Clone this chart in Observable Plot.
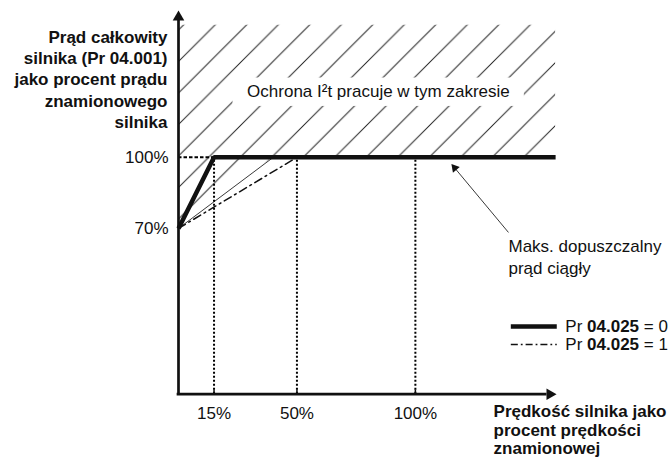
<!DOCTYPE html>
<html><head><meta charset="utf-8">
<script src="https://cdn.jsdelivr.net/npm/d3@7"></script>
<script src="https://cdn.jsdelivr.net/npm/@observablehq/plot@0.6"></script>
<style>body{margin:0;background:#fff} svg{display:block}</style>
</head><body><div id="chart"></div>
<script>
// ---- data ----
const speedTicks = [15, 50, 100];           // x tick values (% speed)
const currentTicks = [70, 100];             // y tick values (% current)
const guideSpeeds = [15, 50, 100];          // dotted vertical guides
const limitPr0 = [{x: 0, y: 70}, {x: 15, y: 100}, {x: 159.2, y: 100}];   // Pr 04.025 = 0
const limitPr1 = [{x: 0, y: 70}, {x: 50, y: 100}];                      // Pr 04.025 = 1
const hatchEdge = [{x: 0, y: 70}, {x: 40, y: 100}];
const hatchZone = [
  {x: 0, y1: 70, y2: 155.8},
  {x: 40, y1: 100, y2: 155.8},
  {x: 159.2, y1: 100, y2: 155.8}
];
const yTitle = ["Prąd całkowity", "silnika (Pr 04.001)", "jako procent prądu", "znamionowego", "silnika"];
const xTitle = ["Prędkość silnika jako", "procent prędkości", "znamionowej"];
const zoneLabel = [{x: 84.4, y: 127.6, text: "Ochrona I²t pracuje w tym zakresie"}];
const zoneBox = [{x1: 23, x2: 146, y1: 121.5, y2: 133.5}];
const noteText = [{x: 139.3, y: 66.7, text: "Maks. dopuszczalny\nprąd ciągły"}];
const noteArrow = [{x1: 139.3, y1: 68.3, x2: 115.7, y2: 96.6}];
const legendRows = [
  {y: 28.6, pre: "Pr", code: "04.025", post: "= 0"},
  {y: 21.0, pre: "Pr", code: "04.025", post: "= 1"}
];
const legendX = {x1: 140.5, x2: 159.9, text: 163.3};

// ---- helpers ----
const FONT = "'Liberation Sans', Arial, Helvetica, sans-serif";
const INK = "#111";
const ctx = document.createElement("canvas").getContext("2d");
function tw(s, bold) { ctx.font = (bold ? "bold " : "") + "17px " + FONT; return ctx.measureText(s).width; }
const kx = 379 / 160, ky = 383.7 / 162;
const a = noteArrow[0];
const vx = (a.x2 - a.x1) * kx, vy = -(a.y2 - a.y1) * ky;
const vl = Math.hypot(vx, vy);
const headR = 3.3, headTip = 2 * Math.sqrt(Math.PI * headR * headR / (3 * Math.sqrt(3)));
const headRot = Math.atan2(vx / vl, -vy / vl) * 180 / Math.PI;
const axR = 4.3, axTip = 2 * Math.sqrt(Math.PI * axR * axR / (3 * Math.sqrt(3)));

const chart = Plot.plot({
  width: 672, height: 459,
  marginLeft: 178, marginRight: 115, marginTop: 10, marginBottom: 65.3,
  x: {domain: [0, 160]},
  y: {domain: [0, 162]},
  style: {fontFamily: FONT, color: INK, background: "white", overflow: "visible"},
  marks: [
    Plot.areaY(hatchZone, {x: "x", y1: "y1", y2: "y2", fill: "url(#hatch)", curve: "linear"}),
    Plot.line(hatchEdge, {x: "x", y: "y", stroke: "#222", strokeWidth: 0.9}),
    Plot.rect(zoneBox, {x1: "x1", x2: "x2", y1: "y1", y2: "y2", fill: "white"}),
    Plot.text(zoneLabel, {x: "x", y: "y", text: "text", fontSize: 17, fill: INK, textAnchor: "middle", lineAnchor: "middle"}),
    // guides
    Plot.ruleX(guideSpeeds, {y1: 0, y2: 100, stroke: "#000", strokeWidth: 2, strokeDasharray: "2,2"}),
    Plot.ruleY([100], {x1: 0, x2: 15, stroke: "#000", strokeWidth: 2, strokeDasharray: "3.5,2"}),
    // curves
    Plot.line(limitPr1, {x: "x", y: "y", stroke: INK, strokeWidth: 1.5, strokeDasharray: "8,4,1.8,4"}),
    Plot.line(limitPr0, {x: "x", y: "y", stroke: INK, strokeWidth: 4.5, strokeLinejoin: "miter", strokeLinecap: "butt"}),
    // axes lines + heads
    Plot.ruleX([0], {y1: 0, y2: 157.5, stroke: INK, strokeWidth: 2.7, strokeLinecap: "square"}),
    Plot.ruleY([0], {x1: 0, x2: 155, stroke: INK, strokeWidth: 2.7, strokeLinecap: "square"}),
    Plot.dot([{x: 0, y: 162}], {x: "x", y: "y", symbol: "triangle", r: axR, fill: INK, stroke: "none", dy: axTip}),
    Plot.dot([{x: 159.6, y: 0}], {x: "x", y: "y", symbol: "triangle", r: axR, fill: INK, stroke: "none", rotate: 90, dx: -axTip}),
    Plot.ruleX(speedTicks, {y1: 0, y2: 1.8, stroke: INK, strokeWidth: 1.5}),
    Plot.axisX({ticks: speedTicks, tickFormat: d => d + "%", tickSize: 0, tickPadding: 13, fontSize: 17, label: null}),
    Plot.axisY({ticks: currentTicks, tickFormat: d => d + "%", tickSize: 0, tickPadding: 10, fontSize: 17, label: null}),
    // titles
    Plot.text([yTitle.join("\n")], {x: 0, y: 154.9, dx: -11, text: d => d, textAnchor: "end", lineAnchor: "top", lineHeight: 1.26, fontSize: 17, fontWeight: "bold", fill: INK}),
    Plot.text([xTitle.join("\n")], {x: 133, y: -4.3, text: d => d, textAnchor: "start", lineAnchor: "top", lineHeight: 1.08, fontSize: 17, fontWeight: "bold", fill: INK}),
    // note
    Plot.link(noteArrow, {x1: "x1", y1: "y1", x2: "x2", y2: "y2", stroke: "#222", strokeWidth: 0.9}),
    Plot.dot(noteArrow, {x: "x2", y: "y2", symbol: "triangle", r: headR, fill: INK, stroke: "none", rotate: headRot,
      dx: -vx / vl * headTip / 2 * 1.3, dy: -vy / vl * headTip / 2 * 1.3}),
    Plot.text(noteText, {x: "x", y: "y", text: "text", textAnchor: "start", lineAnchor: "top", lineHeight: 1.29, fontSize: 17, fill: INK}),
    // legend
    Plot.ruleY([legendRows[0]], {y: "y", x1: legendX.x1, x2: legendX.x2, stroke: INK, strokeWidth: 4.5}),
    Plot.ruleY([legendRows[1]], {y: "y", x1: legendX.x1, x2: legendX.x2, stroke: INK, strokeWidth: 1.5, strokeDasharray: "7,3,1.8,3"}),
    Plot.text(legendRows, {x: legendX.text, y: "y", text: "pre", textAnchor: "start", fontSize: 17, fill: INK}),
    Plot.text(legendRows, {x: legendX.text, y: "y", text: "code", dx: tw("Pr "), textAnchor: "start", fontSize: 17, fontWeight: "bold", fill: INK}),
    Plot.text(legendRows, {x: legendX.text, y: "y", text: "post", dx: tw("Pr ") + tw("04.025", true) + tw(" "), textAnchor: "start", fontSize: 17, fill: INK})
  ]
});

const ns = "http://www.w3.org/2000/svg";
const defs = document.createElementNS(ns, "defs");
defs.innerHTML = '<pattern id="hatch" patternUnits="userSpaceOnUse" width="31.5" height="31.5" patternTransform="translate(19.5,0)">' +
  '<path d="M0,31.5L31.5,0M-1,1L1,-1M30.5,32.5L32.5,30.5" stroke="#222" stroke-width="1" fill="none"/></pattern>';
chart.insertBefore(defs, chart.firstChild);
document.getElementById("chart").appendChild(chart);
</script>
</body></html>
